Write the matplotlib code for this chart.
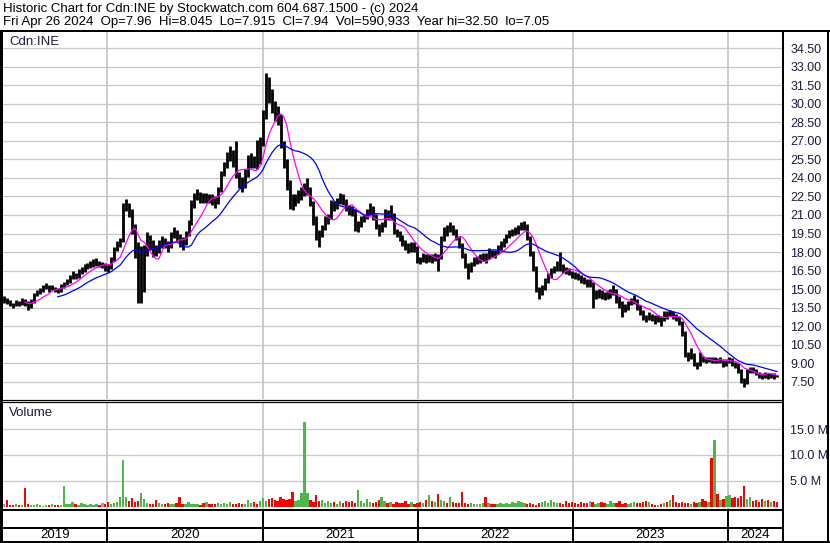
import numpy as np
import pandas as pd
import matplotlib
matplotlib.use("Agg")
import matplotlib.pyplot as plt
import matplotlib.dates as mdates
from matplotlib.lines import Line2D

plt.rcParams['font.family'] = ['Liberation Sans', 'DejaVu Sans']

# weekly data, Cdn:INE, May 2019 -> Apr 26 2024
closes = [
    14.2, 14.0, 13.8, 13.7, 13.9, 13.8, 14.1, 13.9, 13.5, 14.0,
    14.5, 14.7, 14.9, 15.1, 15.2, 15.0, 15.1, 15.0, 14.9, 15.2,
    15.4, 15.6, 15.9, 16.2, 16.0, 16.4, 16.5, 16.7, 16.9, 17.0,
    17.1, 17.2, 17.0, 17.0, 16.8, 16.7, 17.4, 18.2, 18.6, 18.8,
    21.6, 21.9, 21.4, 20.2, 18.7, 14.3, 14.6, 17.8, 19.0, 18.8,
    18.4, 18.0, 18.6, 18.8, 18.7, 18.4, 19.3, 19.7, 19.3, 19.0,
    18.7, 19.4, 20.3, 21.8, 22.4, 22.7, 22.5, 22.4, 22.45, 22.4,
    22.3, 22.0, 23.0, 24.2, 24.9, 25.6, 26.0, 25.2, 24.35, 23.8,
    23.4, 24.3, 25.2, 25.4, 25.3, 25.2, 26.8, 29.0, 31.9, 30.9,
    29.9, 29.2, 29.0, 26.8, 25.2, 23.6, 22.4, 22.0, 22.2, 22.6,
    22.8, 23.1, 23.2, 22.0, 20.8, 19.8, 19.4, 19.9, 20.55, 20.8,
    21.9, 21.7, 22.0, 22.4, 22.2, 21.7, 21.4, 21.3, 20.0, 20.1,
    20.55, 20.8, 21.2, 21.5, 21.0, 20.2, 19.6, 20.1, 21.1, 21.0,
    21.1, 19.8, 19.5, 19.3, 18.9, 18.6, 18.2, 18.5, 18.4, 17.4,
    17.3, 17.6, 17.4, 17.5, 17.4, 17.6, 17.5, 19.0, 19.75, 19.7,
    20.0, 19.8, 19.3, 18.6, 17.8, 17.0, 16.7, 16.9, 17.3, 17.3,
    17.5, 17.6, 17.5, 18.0, 17.9, 17.85, 18.3, 18.6, 18.8, 19.2,
    19.5, 19.6, 19.7, 19.9, 20.15, 20.2, 19.2, 17.9, 16.8, 15.0,
    14.7, 15.0, 15.6, 16.0, 16.4, 16.6, 17.0, 16.9, 16.6, 16.5,
    16.4, 16.2, 16.1, 15.95, 15.8, 15.7, 15.5, 15.5, 14.4, 14.6,
    14.7, 14.6, 14.45, 14.6, 14.7, 14.9, 14.2, 13.8, 13.65, 13.4,
    13.8, 14.0, 14.1, 13.6, 13.2, 12.9, 12.6, 12.85, 12.7, 12.55,
    12.6, 12.4, 13.0, 12.9, 13.1, 12.9, 12.7, 12.4, 11.6, 9.7,
    9.5, 9.8, 9.0, 8.8, 9.4, 9.3, 9.25, 9.3, 9.2, 9.3,
    9.2, 9.3, 8.9, 9.1, 9.3, 9.0, 8.9, 8.5, 7.7, 7.3,
    8.3, 8.5, 8.45, 8.2, 8.0, 7.95, 8.05, 7.95, 8.0, 7.95, 7.94,
]
highs = [
    14.4, 14.3, 14.1, 13.9, 14.1, 14.0, 14.3, 14.2, 14.0, 14.2,
    14.7, 14.9, 15.1, 15.3, 15.5, 15.3, 15.3, 15.2, 15.1, 15.4,
    15.6, 15.8, 16.1, 16.5, 16.3, 16.6, 16.8, 17.0, 17.1, 17.3,
    17.4, 17.5, 17.3, 17.2, 17.1, 17.0, 17.6, 18.4, 18.9, 19.1,
    22.0, 22.3, 22.0, 21.5, 20.3, 18.8, 18.5, 18.6, 19.6, 19.4,
    19.0, 18.6, 19.0, 19.3, 19.1, 18.9, 19.6, 20.0, 19.8, 19.5,
    19.2, 19.7, 20.6, 22.2, 22.8, 23.1, 22.9, 22.8, 22.8, 22.7,
    22.7, 22.5, 23.3, 24.6, 25.3, 26.1, 26.6, 26.3, 27.0, 24.5,
    24.1, 24.7, 25.9, 26.0, 25.8, 27.1, 27.3, 29.5, 32.5, 32.2,
    31.2, 30.2, 29.8, 29.2, 27.0, 25.5, 23.8, 22.7, 22.7, 23.0,
    23.3, 23.6, 24.0, 23.3, 22.1, 20.9, 19.8, 20.2, 20.9, 21.1,
    22.2, 22.1, 22.4, 22.8, 22.7, 22.3, 21.8, 21.7, 21.5, 20.5,
    20.9, 21.1, 21.5, 22.0, 21.7, 21.1, 20.3, 20.4, 21.5, 21.4,
    21.8, 21.2, 19.9, 19.7, 19.4, 19.0, 18.7, 18.8, 18.8, 18.5,
    17.6, 17.9, 17.8, 17.8, 17.8, 17.9, 17.8, 19.3, 20.0, 20.2,
    20.4, 20.2, 19.9, 19.3, 18.7, 17.9, 17.1, 17.2, 17.6, 17.7,
    17.8, 17.9, 17.9, 18.3, 18.2, 18.2, 18.6, 18.9, 19.1, 19.5,
    19.8, 19.9, 20.0, 20.2, 20.4, 20.5, 20.3, 19.3, 18.1, 16.9,
    15.2, 15.3, 15.9, 16.3, 16.7, 16.9, 17.3, 18.0, 17.0, 16.8,
    16.7, 16.5, 16.4, 16.3, 16.1, 16.0, 15.8, 15.8, 15.6, 14.9,
    15.0, 14.9, 14.8, 14.9, 15.0, 15.3, 15.0, 14.4, 14.0, 13.8,
    14.0, 14.3, 14.5, 14.2, 13.7, 13.3, 12.9, 13.1, 13.0, 12.9,
    12.9, 12.8, 13.2, 13.2, 13.3, 13.2, 13.0, 12.8, 12.4, 11.6,
    9.9, 10.2, 9.8, 9.1, 9.9, 9.6, 9.5, 9.5, 9.5, 9.5,
    9.4, 9.5, 9.3, 9.3, 9.5, 9.4, 9.1, 9.0, 8.5, 7.8,
    8.5, 8.7, 8.7, 8.5, 8.3, 8.2, 8.3, 8.2, 8.2, 8.2, 8.05,
]
lows = [
    13.9, 13.8, 13.6, 13.5, 13.6, 13.6, 13.7, 13.6, 13.3, 13.5,
    13.9, 14.4, 14.6, 14.8, 15.0, 14.8, 14.9, 14.8, 14.7, 14.8,
    15.1, 15.3, 15.5, 15.8, 15.8, 15.9, 16.2, 16.4, 16.6, 16.7,
    16.8, 16.9, 16.8, 16.7, 16.5, 16.4, 16.6, 17.3, 18.1, 18.4,
    18.8, 21.3, 20.8, 19.5, 17.5, 13.9, 13.9, 14.8, 17.7, 18.2,
    17.6, 17.7, 17.9, 18.3, 18.3, 18.0, 18.3, 19.1, 18.9, 18.4,
    18.2, 18.6, 19.3, 20.2, 21.6, 22.2, 22.0, 22.0, 22.0, 22.0,
    21.8, 21.6, 21.9, 22.9, 24.2, 24.8, 25.4, 24.9, 24.0, 23.2,
    22.9, 23.2, 24.1, 24.8, 24.8, 24.7, 25.1, 26.6, 28.8, 30.1,
    29.3, 28.6, 28.3, 26.4, 24.8, 23.0, 21.5, 21.4, 21.7, 22.0,
    22.2, 22.5, 22.6, 21.7, 20.2, 19.0, 18.4, 19.2, 19.8, 20.3,
    20.7, 21.3, 21.5, 21.9, 21.8, 21.3, 21.0, 20.9, 19.7, 19.6,
    20.0, 20.4, 20.7, 21.0, 20.6, 19.9, 19.3, 19.6, 20.0, 20.6,
    20.6, 19.5, 19.2, 18.9, 18.5, 18.2, 17.9, 18.0, 18.0, 17.1,
    17.0, 17.2, 17.1, 17.2, 17.1, 17.3, 16.5, 17.4, 18.9, 19.3,
    19.6, 19.4, 19.0, 18.3, 17.5, 16.7, 15.8, 16.4, 16.9, 17.0,
    17.1, 17.3, 17.1, 17.4, 17.6, 17.5, 17.8, 18.2, 18.4, 18.7,
    19.1, 19.3, 19.4, 19.5, 19.8, 19.8, 19.0, 17.7, 16.5, 14.8,
    14.2, 14.5, 14.9, 15.5, 15.9, 16.3, 16.5, 16.5, 16.3, 16.2,
    16.1, 15.9, 15.8, 15.7, 15.5, 15.4, 15.2, 15.2, 13.5, 14.2,
    14.3, 14.2, 14.1, 14.2, 14.3, 14.5, 13.9, 13.5, 12.7, 13.1,
    13.3, 13.7, 13.8, 13.3, 12.9, 12.5, 12.3, 12.5, 12.4, 12.2,
    12.3, 12.0, 12.4, 12.6, 12.8, 12.6, 12.4, 12.1, 11.2, 9.5,
    9.2, 9.3, 8.8, 8.5, 8.8, 9.1, 9.0, 9.1, 9.0, 9.0,
    9.0, 9.0, 8.7, 8.8, 9.0, 8.8, 8.6, 8.2, 7.4, 7.05,
    7.3, 8.2, 8.2, 8.0, 7.8, 7.7, 7.8, 7.7, 7.8, 7.7, 7.9,
]
# weekly volume, millions of shares
volumes = [
    0.5, 1.4, 0.4, 0.3, 0.5, 0.4, 0.3, 3.7, 0.6, 0.4,
    0.3, 0.5, 0.3, 0.2, 0.4, 0.3, 0.5, 0.3, 0.4, 0.3,
    4.1, 0.6, 0.5, 0.9, 0.6, 0.4, 0.7, 0.5, 0.4, 0.6,
    0.3, 0.5, 0.4, 0.8, 0.5, 0.9, 0.6, 0.8, 1.0, 2.0,
    9.1, 1.9, 1.1, 1.7, 0.9, 1.2, 2.6, 1.5, 0.8, 0.6,
    0.5, 1.4, 0.7, 0.6, 0.5, 0.8, 0.6, 0.5, 0.7, 2.0,
    0.6, 0.5, 0.9, 0.6, 0.5, 0.6, 0.4, 0.7, 0.9, 0.5,
    0.6, 0.5, 0.8, 0.6, 0.7, 0.5, 1.0, 0.6, 0.5, 0.7,
    0.6, 0.5, 1.3, 0.7, 1.0, 0.6, 1.1, 1.7, 1.2, 1.5,
    1.7, 1.4, 1.2, 1.9, 1.5, 1.3, 1.6, 2.8, 1.2, 1.4,
    2.6, 16.4, 2.6, 1.3, 0.9, 2.3, 1.1, 1.4, 0.8, 1.2,
    0.7, 1.0, 0.6, 1.1, 0.8, 1.2, 0.9, 1.1, 0.7, 3.3,
    1.2, 0.8, 1.5, 1.0, 0.7, 0.9, 1.3, 2.0, 1.1, 0.8,
    0.9, 0.6, 1.0, 0.8, 0.7, 1.1, 0.5, 0.9, 0.6, 0.7,
    1.0, 0.8, 1.3, 2.2, 1.2, 0.9, 2.4, 1.3, 1.1, 0.8,
    1.9, 0.9, 0.7, 0.8, 2.9, 0.8, 0.6, 0.7, 0.5, 0.6,
    0.5, 0.7, 2.0, 0.7, 0.6, 0.5, 0.6, 0.7, 0.5, 0.8,
    0.6, 1.0, 0.8, 1.2, 0.9, 0.7, 0.6, 0.8, 0.5, 0.4,
    0.7, 1.0, 1.2, 0.8, 1.3, 0.9, 0.7, 0.8, 0.6, 1.1,
    0.8, 0.9, 0.7, 0.6, 1.0, 0.8, 0.7, 1.2, 0.9, 0.6,
    0.7, 0.9, 0.8, 0.6, 1.1, 0.7, 0.8, 1.2, 0.6, 0.7,
    0.5, 0.8, 0.9, 0.7, 0.8, 1.0, 1.1, 0.9, 0.6, 0.4,
    0.3, 0.5, 0.7, 0.9, 1.3, 2.2, 1.0, 0.8, 0.9, 0.7,
    0.8, 0.6, 0.9, 0.7, 1.0, 1.5, 1.2, 1.0, 9.4, 12.8,
    2.4, 1.3, 1.6, 2.1, 2.3, 1.8, 2.0, 1.7, 2.1, 4.1,
    1.5, 2.0, 1.1, 1.3, 1.0, 1.6, 1.2, 1.4, 1.0, 1.2, 0.9,
]
assert len(closes) == len(highs) == len(lows) == len(volumes) == 261

price_ticks = np.arange(7.5, 34.51, 1.5)
vol_ticks = [5, 10, 15]
vol_tick_labels = ['5.0 M', '10.0 M', '15.0 M']
years = ['2019', '2020', '2021', '2022', '2023', '2024']

header1 = "Historic Chart for Cdn:INE by Stockwatch.com 604.687.1500 - (c) 2024"
header2 = ("Fri Apr 26 2024  Op=7.96  Hi=8.045  Lo=7.915  Cl=7.94  "
           "Vol=590,933  Year hi=32.50  lo=7.05")

W, H = 830, 543
dates = pd.date_range(end='2024-04-26', periods=len(closes), freq='7D')
xd = mdates.date2num(dates)
x0 = mdates.date2num(pd.Timestamp('2019-04-30'))
x1 = mdates.date2num(pd.Timestamp('2024-05-08'))
year_starts = [mdates.date2num(pd.Timestamp(f'{y}-01-01')) for y in range(2020, 2025)]

close_s = pd.Series(closes)
ma_short = close_s.rolling(8).mean()
ma_long = close_s.rolling(19).mean()

fig = plt.figure(figsize=(W / 100, H / 100), dpi=100)
fig.patch.set_facecolor('white')


def rect(l, t, r, b):
    return [l / W, 1 - b / H, (r - l) / W, (b - t) / H]


def fline(xs, ys, lw=2.0, color='black'):
    fig.add_artist(Line2D([x / W for x in xs], [1 - y / H for y in ys],
                          transform=fig.transFigure, color=color,
                          linewidth=lw * 0.72, solid_capstyle='butt'))


grid_c = '#c8c8c8'
lab_c = '#1c1c3c'

# price panel
ax = fig.add_axes(rect(3, 31, 782, 399))
ax.set_xlim(x0, x1)
ax.set_ylim(6.09, 35.91)
for v in price_ticks:
    ax.axhline(v, color=grid_c, lw=0.9, zorder=0)
for xs in year_starts:
    ax.axvline(xs, color=grid_c, lw=1.3, zorder=0)
ax.hlines(closes, xd + 0.5, xd + 3.0, color='red', lw=1.5, zorder=2)
ax.vlines(xd, lows, highs, color='black', lw=2.0, zorder=3)
ax.plot(xd, ma_short, color='#ff00ff', lw=0.9, zorder=4)
ax.plot(xd, ma_long, color='#0000ff', lw=0.9, zorder=4)
ax.yaxis.tick_right()
ax.set_yticks(price_ticks)
ax.set_yticklabels([f'{v:.2f}' for v in price_ticks])
ax.tick_params(axis='y', length=0, pad=6, labelsize=9, labelcolor=lab_c)
ax.set_xticks([])
for s in ax.spines.values():
    s.set_visible(False)

# volume panel
axv = fig.add_axes(rect(3, 402, 782, 509))
axv.set_xlim(x0, x1)
axv.set_ylim(-0.4, 20.2)
for v in vol_ticks:
    axv.axhline(v, color=grid_c, lw=0.9, zorder=0)
for xs in year_starts:
    axv.axvline(xs, color=grid_c, lw=1.3, zorder=0)
vcol = ['#a0a0a0']
for i in range(1, len(closes)):
    if closes[i] > closes[i - 1]:
        vcol.append('#4cb84c')
    elif closes[i] < closes[i - 1]:
        vcol.append('#ff0000')
    else:
        vcol.append('#a0a0a0')
axv.bar(xd, volumes, width=5.6, color=vcol, zorder=2)
axv.yaxis.tick_right()
axv.set_yticks(vol_ticks)
axv.set_yticklabels(vol_tick_labels)
axv.tick_params(axis='y', length=0, pad=6, labelsize=9, labelcolor=lab_c)
axv.set_xticks([])
for s in axv.spines.values():
    s.set_visible(False)

# year band
axd = fig.add_axes(rect(3, 528, 782, 541))
axd.set_xlim(x0, x1)
axd.set_ylim(0, 1)
axd.axis('off')
edges = [x0] + year_starts + [x1]
for k, y in enumerate(years):
    axd.text((edges[k] + edges[k + 1]) / 2, 0.45, y, ha='center', va='center',
             fontsize=9.5, color='black')

# text
fig.text(3 / W, 1 - 9 / H, header1, fontsize=9.5, va='center', ha='left')
fig.text(3 / W, 1 - 22 / H, header2, fontsize=9.5, va='center', ha='left')
fig.text(9 / W, 1 - 42 / H, 'Cdn:INE', fontsize=9.5, va='center', ha='left', color=lab_c)
fig.text(9 / W, 1 - 413 / H, 'Volume', fontsize=9.5, va='center', ha='left', color=lab_c)

# frame lines
fline([0, W], [30.5, 30.5], lw=2)
fline([1, 1], [30, 542], lw=3)
fline([782.5, 782.5], [30, 542], lw=2)
fline([828, 828], [30, 542], lw=2)
fline([0, 782], [399.5, 399.5], lw=1.2)
fline([0, 782], [402, 402], lw=1.2)
fline([0, 782], [509.5, 509.5], lw=2)
fline([0, 782], [527.5, 527.5], lw=2)
fline([0, W], [541.5, 541.5], lw=2)
for xs in year_starts:
    px = 3 + (xs - x0) / (x1 - x0) * 779
    fline([px, px], [509, 541], lw=2)

fig.savefig('out.png', dpi=100)
